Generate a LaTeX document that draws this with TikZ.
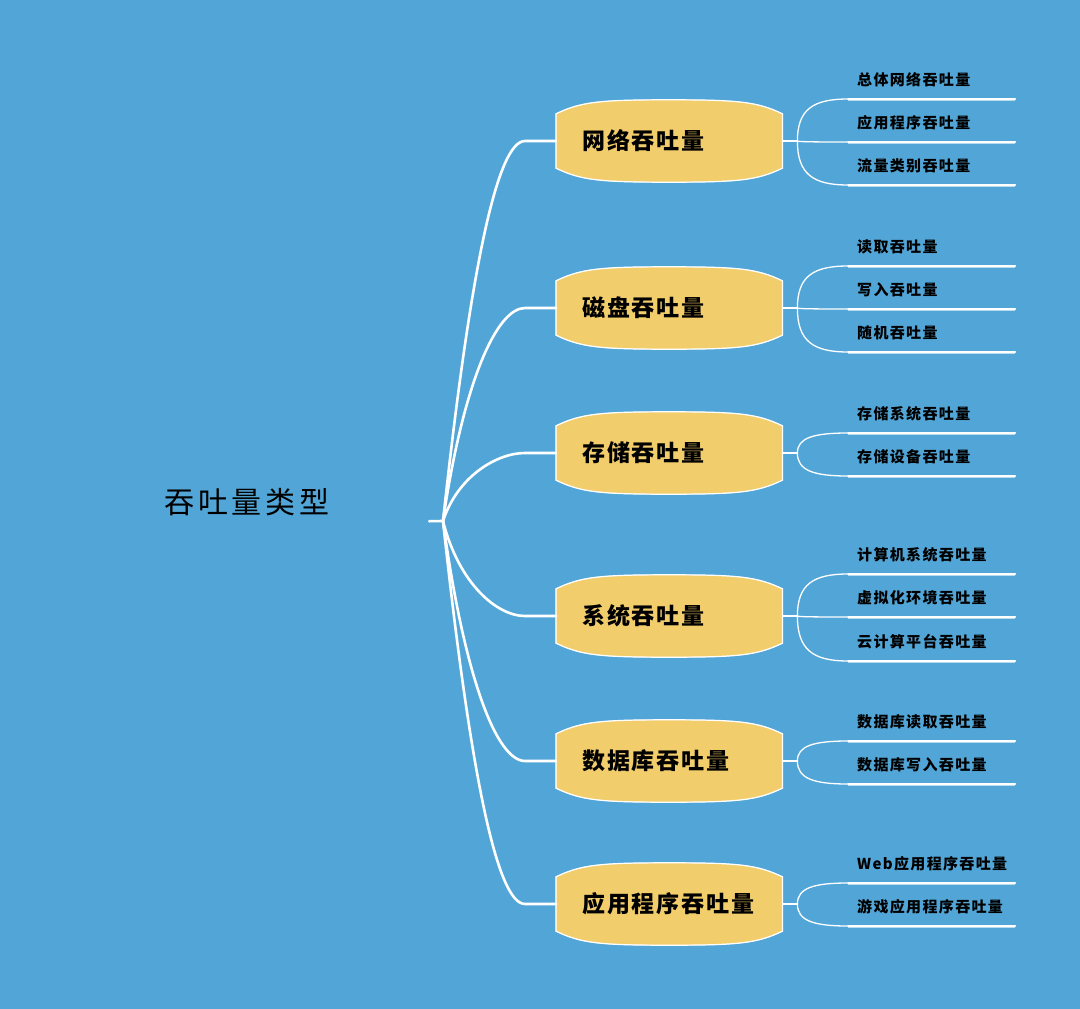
\documentclass[tikz,border=0pt]{standalone}
\usepackage{fontspec}
\usetikzlibrary{calc,backgrounds}
\newfontfamily\rootfont[LetterSpace=13]{Noto Sans CJK SC}
\newfontfamily\branchfont[LetterSpace=8]{Noto Sans CJK SC}
\newfontfamily\leaffont[LetterSpace=9]{Noto Sans CJK SC}
\definecolor{bgColor}{RGB}{82,166,215}
\definecolor{boxColor}{RGB}{242,205,108}
\tikzset{
  wire/.style={draw=white, line width=2.6pt, line cap=round},
  twig/.style={draw=white, line width=1.3pt, line cap=round},
  rootnode/.style={text=black, font=\rootfont\fontsize{30}{30}\selectfont,
    minimum width=364pt, minimum height=38pt, inner sep=0pt},
  branch/.style={anchor=west, text=black, font=\branchfont\bfseries\fontsize{23}{23}\selectfont,
    text width=174pt, align=left, inner xsep=26pt, inner ysep=0pt, minimum height=54pt},
  leaf/.style={anchor=south west, text=black, font=\leaffont\bfseries\fontsize{15}{15}\selectfont,
    text width=149pt, align=left, inner xsep=9pt, inner ysep=10pt, text height=11pt, text depth=3pt},
  sketch/.style={insert path={(#1.north west) .. controls +(25,-12) and +(-70,0) .. ($(#1.north)+(0,-14)$)
    .. controls +(70,0) and +(-25,-12) .. (#1.north east) -- (#1.south east)
    .. controls +(-25,12) and +(70,0) .. ($(#1.south)+(0,14)$)
    .. controls +(-70,0) and +(25,12) .. (#1.south west) -- cycle}}
}
\begin{document}
\begin{tikzpicture}[x=1pt,y=-1pt]
\path[use as bounding box] (0,0) rectangle (1080,1009);
\begin{scope}[on background layer]
\fill[bgColor] (0,0) rectangle (1080,1009);
\end{scope}

% root
\node[rootnode] (root) at (247,502) {吞吐量类型};
\coordinate (hub) at (443,521);
\draw[wire] (root.south east) -- (hub);

% branches
\foreach \i/\y/\t in {1/141/网络吞吐量, 2/308/磁盘吞吐量, 3/453/存储吞吐量,
    4/616/系统吞吐量, 5/761/数据库吞吐量, 6/904/应用程序吞吐量}{
  \node[branch] (b\i) at (556,\y) {\t};
  \begin{scope}[on background layer]
  \fill[boxColor, sketch=b\i];
  \end{scope}
  \draw[white, line width=1.2pt, sketch=b\i];
  \draw[white, line width=0.8pt, opacity=.6, xshift=1.5pt, yshift=1.2pt, sketch=b\i];
  \pgfmathsetmacro\cy{0.66*(\y-521)}
  \pgfmathsetmacro\cx{12+0.04*abs(\y-521)}
  \coordinate (j\i) at (525,\y);
  \draw[wire] (hub) .. controls ($(hub)+(\cx,\cy)$) and ($(j\i)+(-28,0)$) .. (j\i) -- (b\i.west);
  \draw[twig] (b\i.east) -- ++(15,0) coordinate (k\i);
}

% leaves
\foreach \i/\y/\t [count=\n] in {1/99/总体网络吞吐量, 1/142/应用程序吞吐量, 1/185/流量类别吞吐量,
    2/266/读取吞吐量, 2/309/写入吞吐量, 2/352/随机吞吐量,
    3/433/存储系统吞吐量, 3/476/存储设备吞吐量,
    4/574/计算机系统吞吐量, 4/617/虚拟化环境吞吐量, 4/661/云计算平台吞吐量,
    5/741/数据库读取吞吐量, 5/784/数据库写入吞吐量,
    6/883/Web应用程序吞吐量, 6/926/游戏应用程序吞吐量}{
  \node[leaf] (l\n) at (848,\y) {\t};
  \draw[twig] (l\n.south west) -- (l\n.south east);
  \draw[white, line width=0.6pt, opacity=.6] ([yshift=-1.5pt]l\n.south west) -- ([yshift=-1.5pt]l\n.south east);
  \draw[twig] (k\i) .. controls ($(k\i |- l\n.south west)!0.25!(k\i)$) and ($(l\n.south west)+(-35,0)$) .. (l\n.south west);
}
\end{tikzpicture}
\end{document}
